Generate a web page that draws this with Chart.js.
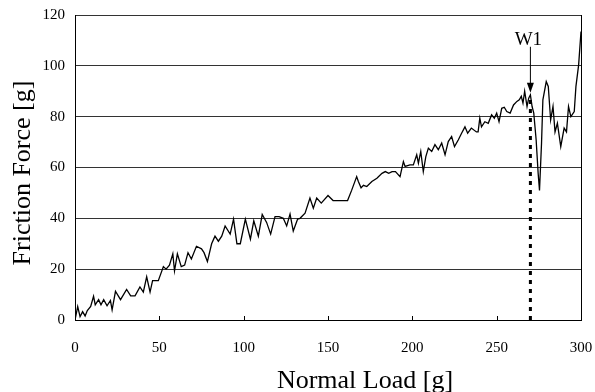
<!DOCTYPE html>
<html lang="en">
<head>
    <meta charset="UTF-8">
    <title>Friction Force vs Normal Load</title>
    <style>
        body {
            margin: 0;
            padding: 0;
            background-color: #fff;
        }

        #chart-box {
            width: 595px;
            height: 392px;
        }
    </style>
</head>
<body>
    <div id="chart-box">
        <canvas id="chart"></canvas>
    </div>

    <script src="https://cdn.jsdelivr.net/npm/chart.js"></script>
    <script>
        // normal load [g] and friction force [g]
        const loads = [0, 1.6, 3, 4.5, 6, 7.3, 9.3, 11, 12, 14, 15.4, 17, 19, 21, 22, 24, 27, 30.6, 33, 35.6,
            38.5, 40.5, 42.5, 44.5, 46, 49.4, 52.4, 54, 56, 58, 59, 60.7, 63, 65, 67, 69, 72, 75, 76.5, 78.5,
            81, 83, 85, 87, 89, 92, 94, 96, 98, 101, 104, 106, 108.7, 111, 113.6, 116, 118.6, 121, 123.5, 125.5,
            127.5, 129.4, 132, 133.4, 136.4, 139.3, 141.3, 143.3, 146, 150, 153, 156, 161.6, 164, 167, 168, 169.6, 171, 173, 176,
            179, 182, 184, 186, 188, 190, 192.7, 194.7, 195.7, 198.6, 200.6, 202.6, 203.6, 205, 206.5, 208, 209.5, 211.5, 213.4, 215.4,
            217.4, 219.4, 221.3, 223.3, 225, 227.3, 229.2, 231.2, 232.8, 235, 238, 239, 240, 241, 243, 245, 247, 248.6, 250, 251.4,
            253, 254.5, 256, 258, 260, 262, 263.4, 264.6, 265.6, 266.6, 268, 269, 270, 271, 272, 273.4, 274.6, 275.4, 276.6, 277.4,
            279.4, 280.6, 282, 283.4, 284.6, 286, 288, 290, 291.4, 292.6, 294, 296, 297, 298.6, 300];
        const forces = [0, 5.3, 1.3, 3.3, 1.6, 3.7, 5.3, 9.3, 6, 8, 6, 8, 5.6, 7.7, 4, 11.3, 8, 12, 9.5, 9.5,
            13, 11, 17, 11, 15.5, 15.5, 21, 20, 21.6, 26, 19.3, 26, 21, 21.6, 26.5, 24, 29, 28, 26.5, 23,
            30, 33, 31, 33, 37, 33.8, 39.7, 30, 30, 39.7, 31.8, 39, 33, 41.5, 38.4, 33.8, 40.7, 40.7, 40, 37,
            41.7, 35, 39.7, 40, 42, 48, 44, 48, 46, 49, 47, 47, 47, 51, 56.4, 54.5, 52, 53, 52.5, 54.5,
            55.8, 57.7, 58.4, 57.7, 58.4, 58.4, 56.4, 62.3, 60.4, 61, 61, 65, 61.7, 66.3, 58.4, 64.3, 67.6, 66.3, 69, 67,
            69.6, 65, 70.2, 72.2, 68.2, 70.9, 73.5, 76, 73.5, 75.5, 74, 74, 79.4, 76, 78, 77.4, 80.7, 79.4, 81.4, 78,
            83.3, 83.7, 82, 81.4, 84.6, 86, 86.6, 88, 85.3, 90, 84, 87.3, 88.6, 84, 81.4, 70.9, 57.7, 51, 69.6, 86.6,
            93.8, 91.9, 78.7, 84, 74, 77.4, 68.2, 75.5, 74, 84, 80, 82, 91.9, 100.4, 113.5];

        const xTicks = [0, 50, 100, 150, 200, 250, 300];
        const yTicks = [0, 20, 40, 60, 80, 100, 120];

        // W1 marker: dotted drop line and arrow
        const w1Load = 270;
        const w1Label = 'W1';
        const w1DropTop = 88;
        const w1ArrowFrom = 107.5;
        const w1ArrowTo = 89.4;

        const xTitle = 'Normal Load [g]';
        const yTitle = 'Friction Force [g]';

        const serif = 'Liberation Serif';

        const framePlugin = {
            id: 'frame',
            afterDraw(chart) {
                const ctx = chart.ctx;
                const area = chart.chartArea;
                const xs = chart.scales.x;
                const ys = chart.scales.y;
                ctx.save();
                ctx.strokeStyle = '#000';
                ctx.lineWidth = 1;
                // right edge of the box
                ctx.beginPath();
                ctx.moveTo(area.right + 0.5, area.top);
                ctx.lineTo(area.right + 0.5, area.bottom);
                ctx.stroke();
                // inward tick marks on the x axis
                xTicks.slice(1, -1).forEach(v => {
                    const px = Math.round(xs.getPixelForValue(v)) + 0.5;
                    ctx.beginPath();
                    ctx.moveTo(px, area.bottom);
                    ctx.lineTo(px, area.bottom - 4);
                    ctx.stroke();
                });
                // arrow pointing at W1
                const ax = xs.getPixelForValue(w1Load);
                const a0 = ys.getPixelForValue(w1ArrowFrom);
                const a1 = ys.getPixelForValue(w1ArrowTo);
                ctx.beginPath();
                ctx.moveTo(ax, a0);
                ctx.lineTo(ax, a1 - 9);
                ctx.stroke();
                ctx.fillStyle = '#000';
                ctx.beginPath();
                ctx.moveTo(ax - 3.5, a1 - 10);
                ctx.lineTo(ax + 3.5, a1 - 10);
                ctx.lineTo(ax, a1);
                ctx.closePath();
                ctx.fill();
                // labels
                ctx.font = '19px "' + serif + '"';
                ctx.textAlign = 'center';
                ctx.textBaseline = 'alphabetic';
                ctx.fillText(w1Label, xs.getPixelForValue(268.8), ys.getPixelForValue(108.3));

                ctx.font = '26px "' + serif + '"';
                ctx.fillText(xTitle, 365, 388);
                ctx.translate(30, 173);
                ctx.rotate(-Math.PI / 2);
                ctx.fillText(yTitle, 0, 0);
                ctx.restore();
            }
        };

        const ctx = document.getElementById('chart').getContext('2d');
        new Chart(ctx, {
            type: 'scatter',
            data: {
                datasets: [{
                    label: 'Friction force',
                    data: loads.map((x, i) => ({ x: x, y: forces[i] })),
                    showLine: true,
                    borderColor: '#000',
                    borderWidth: 1.3,
                    pointRadius: 0,
                    tension: 0
                }, {
                    label: 'W1',
                    data: [{ x: w1Load, y: 0 }, { x: w1Load, y: w1DropTop }],
                    showLine: true,
                    borderColor: '#000',
                    borderWidth: 3,
                    borderDash: [4, 5],
                    pointRadius: 0
                }]
            },
            options: {
                responsive: true,
                maintainAspectRatio: false,
                animation: false,
                layout: {
                    padding: { top: 15, right: 14, left: 0, bottom: 0 }
                },
                plugins: {
                    legend: { display: false },
                    tooltip: { enabled: false }
                },
                scales: {
                    x: {
                        type: 'linear',
                        min: 0,
                        max: 300,
                        afterFit: scale => {
                            scale.height = 72;
                            scale.paddingLeft = 0;
                            scale.paddingRight = 0;
                        },
                        afterBuildTicks: scale => { scale.ticks = xTicks.map(v => ({ value: v })); },
                        ticks: {
                            color: '#000',
                            font: { family: serif, size: 15 },
                            padding: 19,
                            maxRotation: 0
                        },
                        grid: { display: false, drawTicks: false },
                        border: { display: true, color: '#000', width: 1 }
                    },
                    y: {
                        min: 0,
                        max: 120,
                        afterFit: scale => {
                            scale.width = 75;
                            scale.paddingTop = 0;
                            scale.paddingBottom = 0;
                        },
                        afterBuildTicks: scale => { scale.ticks = yTicks.map(v => ({ value: v })); },
                        ticks: {
                            color: '#000',
                            font: { family: serif, size: 15 },
                            padding: 10
                        },
                        grid: { color: '#333', lineWidth: 1, drawTicks: false },
                        border: { display: true, color: '#000', width: 1 }
                    }
                }
            },
            plugins: [framePlugin]
        });
    </script>
</body>
</html>
